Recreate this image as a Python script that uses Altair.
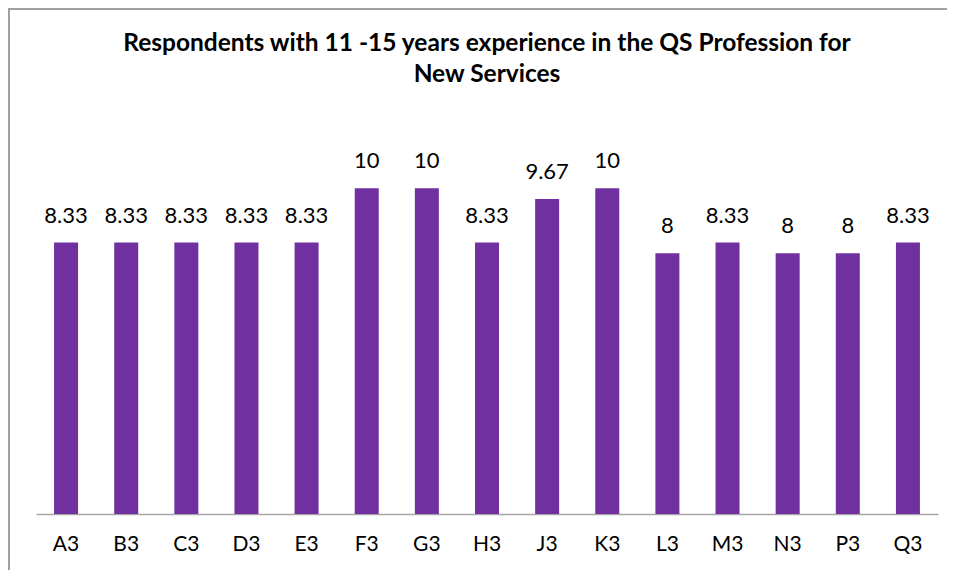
import altair as alt
import pandas as pd

categories = ["A3", "B3", "C3", "D3", "E3", "F3", "G3", "H3", "J3", "K3", "L3", "M3", "N3", "P3", "Q3"]
values = [8.33, 8.33, 8.33, 8.33, 8.33, 10, 10, 8.33, 9.67, 10, 8, 8.33, 8, 8, 8.33]
labels = ["8.33", "8.33", "8.33", "8.33", "8.33", "10", "10", "8.33", "9.67", "10", "8", "8.33", "8", "8", "8.33"]

df = pd.DataFrame({"cat": categories, "val": values, "lab": labels})
frame_df = pd.DataFrame({"k": [0]})

FONT = "Lato"

x_enc = alt.X("cat:N", sort=categories, title=None,
              scale=alt.Scale(paddingInner=0.6, paddingOuter=0.3),
              axis=alt.Axis(labelAngle=0, labelFontSize=21, labelFont=FONT, labelColor="#000000",
                            ticks=False, domainColor="#A6A6A6", domainWidth=1.5,
                            labelPadding=19, grid=False))
y_enc = alt.Y("val:Q", title=None, scale=alt.Scale(domain=[0, 12], nice=False),
              axis=None)

bars = alt.Chart(df).mark_bar(color="#7030A0", size=24).encode(x=x_enc, y=y_enc)

text = alt.Chart(df).mark_text(fontSize=22, font=FONT, color="#000000", baseline="alphabetic", dy=-20).encode(
    x=alt.X("cat:N", sort=categories), y="val:Q", text="lab:N")

border_left = alt.Chart(frame_df).mark_rule(color="#A0A0A0", strokeWidth=2).encode(
    x=alt.value(-27), y=alt.value(-115), y2=alt.value(447))
border_top = alt.Chart(frame_df).mark_rule(color="#A0A0A0", strokeWidth=2).encode(
    x=alt.value(-28), x2=alt.value(919), y=alt.value(-114))

chart = alt.layer(border_left, border_top, bars, text).properties(
    width=902, height=391,
    title=alt.TitleParams(
        text=["Respondents with 11 -15 years experience in the QS Profession for", "New Services"],
        fontSize=24.5, font=FONT, fontWeight="bold", color="#000000",
        anchor="middle", offset=-80, lineHeight=31, frame="group"),
    autosize=alt.AutoSizeParams(type="none"),
    padding={"left": 28, "top": 115, "right": 9, "bottom": 56},
).configure(background="white").configure_view(stroke=None)

chart.save("out.html", embed_options={"renderer": "svg", "actions": False})
